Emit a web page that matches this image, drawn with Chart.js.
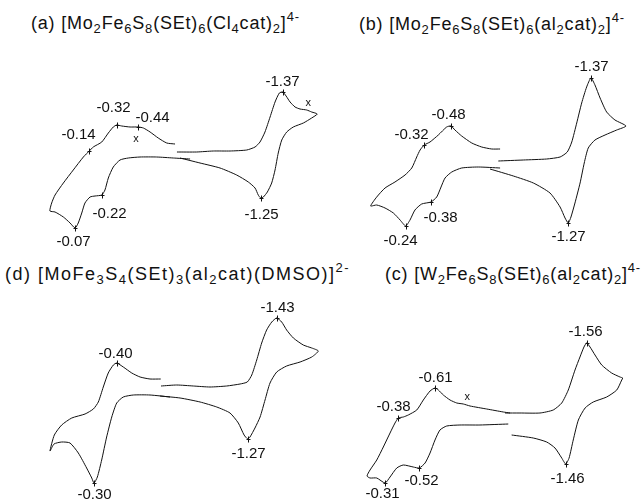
<!DOCTYPE html>
<html>
<head>
<meta charset="utf-8">
<script src="https://cdn.jsdelivr.net/npm/chart.js@4.4.0/dist/chart.umd.min.js"></script>
<style>
  html, body { margin: 0; padding: 0; background: #fff; }
  #wrap { position: relative; width: 641px; height: 501px; overflow: hidden;
          font-family: "Liberation Sans", Arial, Helvetica, sans-serif; color: #111; }
  .title { position: absolute; font-size: 18px; white-space: nowrap; line-height: 18px; letter-spacing: 0.8px; }
  .title sub { font-size: 13px; vertical-align: -4px; line-height: 0; }
  .title sup { font-size: 13px; vertical-align: 8px; line-height: 0; }
  canvas { position: absolute; }
</style>
</head>
<body>
<div id="wrap">
  <div class="title" style="left:31px;top:14px">(a) [Mo<sub>2</sub>Fe<sub>6</sub>S<sub>8</sub>(SEt)<sub>6</sub>(Cl<sub>4</sub>cat)<sub>2</sub>]<sup>4-</sup></div>
  <div class="title" style="left:359px;top:15px">(b) [Mo<sub>2</sub>Fe<sub>6</sub>S<sub>8</sub>(SEt)<sub>6</sub>(al<sub>2</sub>cat)<sub>2</sub>]<sup>4-</sup></div>
  <div class="title" style="left:5px;top:265px;letter-spacing:1.5px">(d) [MoFe<sub>3</sub>S<sub>4</sub>(SEt)<sub>3</sub>(al<sub>2</sub>cat)(DMSO)]<sup>2-</sup></div>
  <div class="title" style="left:385px;top:265px">(c) [W<sub>2</sub>Fe<sub>6</sub>S<sub>8</sub>(SEt)<sub>6</sub>(al<sub>2</sub>cat)<sub>2</sub>]<sup>4-</sup></div>
  <canvas id="cvA" width="330" height="215" style="left:0px;top:40px"></canvas>
  <canvas id="cvB" width="311" height="215" style="left:330px;top:40px"></canvas>
  <canvas id="cvD" width="330" height="216" style="left:0px;top:285px"></canvas>
  <canvas id="cvC" width="311" height="216" style="left:330px;top:285px"></canvas>
</div>
<script>
// potentials in V, currents in arbitrary uA; each trace = top branch then bottom branch

// (a) [Mo2Fe6S8(SEt)6(Cl4cat)2]4-
var aLeftE = [-0.694,-0.642,-0.589,-0.538,-0.496,-0.464,-0.413,-0.361,-0.329,-0.308,-0.277,-0.236,-0.183,-0.158,-0.121,-0.058,0.004,0.056,0.077,0.088,
              0.056,0.004,-0.038,-0.069,-0.089,-0.111,-0.131,-0.163,-0.194,-0.236,-0.256,-0.277,-0.308,-0.35,-0.402,-0.475,-0.579,-0.683,-0.788];
var aLeftI = [1.6,1.7,2.2,2.8,3.2,3.3,3.3,3.4,3.5,3.3,2.7,1.8,1.3,0.9,0.3,-1.0,-2.3,-3.5,-4.3,-5.1,
              -5.2,-5.7,-6.3,-6.8,-6.3,-5.3,-4.3,-3.7,-3.6,-3.5,-3.0,-1.8,-0.7,0,0.2,0.3,0.3,0.2,0.1];
var aRightE = [-0.706,-0.829,-0.933,-1.038,-1.142,-1.194,-1.225,-1.256,-1.288,-1.319,-1.346,-1.367,-1.388,-1.413,-1.444,-1.475,-1.517,-1.548,-1.583,
               -1.548,-1.496,-1.433,-1.392,-1.361,-1.339,-1.319,-1.298,-1.271,-1.246,-1.229,-1.214,-1.194,-1.152,-1.079,-0.975,-0.85,-0.725];
var aRightI = [0.8,0.8,0.9,0.9,1.0,1.3,1.8,2.8,4.3,5.8,6.7,6.8,6.4,5.8,5.3,5.1,5.0,4.8,4.6,
               4.2,3.7,3.3,2.8,2.0,0.7,-1.0,-2.3,-3.2,-3.7,-3.8,-3.5,-2.8,-2.2,-1.5,-0.8,-0.3,0.2];
var aPeakText = ['-0.14','-0.32','-0.44','-0.22','-0.07','-1.37','-1.25'];
var aPeakE = [-0.158,-0.329,-0.464,-0.236,-0.069,-1.367,-1.229];
var aPeakI = [0.9,3.5,3.3,-3.5,-6.8,6.8,-3.8];
var aCrossE = [-0.45,-1.527];
var aCrossI = [2.1,5.7];

// (b) [Mo2Fe6S8(SEt)6(al2cat)2]4-
var bLeftE = [-0.838,-0.786,-0.723,-0.661,-0.598,-0.556,-0.531,-0.504,-0.452,-0.4,-0.364,-0.338,-0.317,-0.286,-0.244,-0.181,-0.119,-0.067,-0.029,
              -0.067,-0.119,-0.171,-0.213,-0.248,-0.275,-0.306,-0.348,-0.406,-0.442,-0.469,-0.494,-0.536,-0.598,-0.702,-0.838];
var bLeftI = [1.6,1.6,1.8,2.2,2.9,3.5,3.9,3.8,3.0,2.3,2.0,1.5,0.8,-0.3,-1.0,-1.7,-2.3,-3.2,-4.1,
              -4.0,-4.3,-4.8,-5.5,-6.1,-5.5,-4.5,-3.9,-3.7,-3.2,-2.2,-1.3,-0.7,-0.3,-0.2,-0.3];
var bRightE = [-0.827,-0.983,-1.129,-1.213,-1.258,-1.286,-1.317,-1.348,-1.379,-1.406,-1.431,-1.463,-1.504,-1.556,-1.625,
               -1.567,-1.494,-1.431,-1.389,-1.364,-1.338,-1.306,-1.281,-1.264,-1.244,-1.213,-1.15,-1.046,-0.921,-0.775];
var bRightI = [0.4,0.5,0.6,0.8,1.3,2.3,4.2,6.2,7.8,8.7,8.0,6.7,5.3,4.5,3.9,
               3.5,3.0,2.5,1.7,0.2,-1.8,-3.8,-5.2,-5.8,-5.3,-4.2,-2.8,-1.8,-1.1,-0.4];
var bPeakText = ['-0.32','-0.48','-0.24','-0.38','-1.37','-1.27'];
var bPeakE = [-0.364,-0.531,-0.248,-0.406,-1.406,-1.264];
var bPeakI = [2.0,3.9,-6.1,-3.7,8.7,-5.8];

// (d) [MoFe3S4(SEt)3(al2cat)(DMSO)]2-
var dLeftE = [-0.717,-0.65,-0.588,-0.536,-0.483,-0.442,-0.421,-0.389,-0.358,-0.327,-0.296,-0.244,-0.161,-0.098,-0.052,-0.025,
              -0.05,-0.098,-0.15,-0.202,-0.254,-0.286,-0.3,-0.321,-0.348,-0.379,-0.411,-0.442,-0.483,-0.546,-0.65,-0.775];
var dLeftI = [1.1,1.1,1.3,1.7,2.3,2.7,2.5,1.7,0.3,-1.2,-1.9,-2.4,-2.8,-3.5,-4.5,-6.1,
              -5.4,-5.2,-5.3,-6.3,-7.8,-8.8,-9.3,-8.7,-7.0,-4.7,-2.7,-1.3,-0.7,-0.5,-0.5,-0.7];
var dRightE = [-0.719,-0.817,-0.921,-1.025,-1.129,-1.213,-1.258,-1.286,-1.317,-1.348,-1.379,-1.411,-1.442,-1.473,-1.504,-1.546,-1.608,-1.661,-1.702,
               -1.661,-1.588,-1.504,-1.442,-1.4,-1.369,-1.338,-1.306,-1.275,-1.261,-1.238,-1.202,-1.15,-1.067,-0.963,-0.838,-0.713];
var dRightI = [0.4,0.5,0.4,0.3,0.4,0.6,0.8,1.5,3.0,4.7,6.0,6.8,7.2,6.8,6.0,5.2,4.5,4.2,3.9,
               3.3,2.8,2.4,1.8,0.7,-1.0,-2.7,-3.8,-4.7,-4.9,-4.5,-3.3,-2.3,-1.7,-1.2,-0.8,-0.6];
var dPeakText = ['-0.40','-0.30','-1.43','-1.27'];
var dPeakE = [-0.442,-0.3,-1.442,-1.261];
var dPeakI = [2.7,-9.3,7.2,-4.9];

// (c) [W2Fe6S8(SEt)6(al2cat)2]4-
var cLeftE = [-1.094,-1.052,-0.948,-0.844,-0.802,-0.761,-0.719,-0.677,-0.646,-0.625,-0.594,-0.552,-0.511,-0.458,-0.427,-0.396,-0.375,-0.344,-0.302,-0.261,-0.219,-0.2,
              -0.219,-0.261,-0.313,-0.344,-0.386,-0.427,-0.489,-0.527,-0.563,-0.594,-0.625,-0.656,-0.698,-0.781,-0.906,-1.083];
var cLeftI = [0.7,0.8,1.1,1.4,1.6,1.7,2.0,2.5,3.0,3.2,2.9,2.0,1.0,0.5,0.3,0.2,-0.3,-1.3,-2.7,-4.0,-5.0,-5.6,
              -5.8,-5.8,-6.3,-5.7,-4.8,-4.5,-4.7,-4.8,-4.3,-3.3,-2.0,-1.0,-0.6,-0.5,-0.5,-0.4];
var cRightE = [-1.063,-1.156,-1.281,-1.364,-1.417,-1.458,-1.5,-1.531,-1.556,-1.573,-1.594,-1.625,-1.667,-1.729,-1.781,-1.798,
               -1.792,-1.761,-1.698,-1.614,-1.563,-1.521,-1.489,-1.463,-1.442,-1.417,-1.375,-1.323,-1.239,-1.104];
var cRightI = [0.7,0.7,0.7,1.0,1.7,3.0,5.0,6.3,7.3,7.7,7.3,6.5,5.5,4.7,4.3,4.2,
               4.0,3.0,2.3,1.8,1.2,0,-2.0,-3.8,-4.4,-3.8,-2.8,-2.2,-1.8,-1.5];
var cPeakText = ['-0.38','-0.61','-0.31','-0.52','-1.56','-1.46'];
var cPeakE = [-0.396,-0.625,-0.313,-0.527,-1.573,-1.442];
var cPeakI = [0.2,3.2,-6.3,-4.8,7.7,-4.4];
var cCrossE = [-0.827];
var cCrossI = [2.3];

var FONT = '"Liberation Sans", Arial, Helvetica, sans-serif';
var INK = '#111';

// peak ticks, labels and the small x marks
function peakPlugin(text, pe, pi, dx, dy, xe, xi) {
  return {
    id: 'peaks',
    afterDatasetsDraw: function(chart) {
      var ctx = chart.ctx, sx = chart.scales.x, sy = chart.scales.y;
      ctx.save();
      ctx.strokeStyle = INK;
      ctx.fillStyle = INK;
      ctx.lineWidth = 1;
      ctx.textAlign = 'center';
      ctx.textBaseline = 'middle';
      ctx.font = '15px ' + FONT;
      for (var k = 0; k < text.length; k++) {
        var px = Math.round(sx.getPixelForValue(pe[k])) + 0.5;
        var py = Math.round(sy.getPixelForValue(pi[k])) + 0.5;
        ctx.beginPath();
        ctx.moveTo(px, py - 3); ctx.lineTo(px, py + 3);
        ctx.moveTo(px - 2, py); ctx.lineTo(px + 2, py);
        ctx.stroke();
        ctx.fillText(text[k], px + dx[k], py + dy[k]);
      }
      ctx.font = '11px ' + FONT;
      for (var j = 0; j < (xe || []).length; j++) {
        ctx.fillText('x', sx.getPixelForValue(xe[j]), sy.getPixelForValue(xi[j]));
      }
      ctx.restore();
    }
  };
}

function trace(E, I) {
  return {
    data: E.map(function(e, k) { return { x: e, y: I[k] }; }),
    showLine: true,
    borderColor: INK,
    borderWidth: 1,
    pointRadius: 0,
    tension: 0.2,
    fill: false
  };
}

// box = canvas left/top/width/height in page px; off/base tie V and uA to page px
function drawCV(id, box, off, base, traces, plugin) {
  var vpp = 0.00625, ipp = 0.1;
  new Chart(document.getElementById(id), {
    type: 'scatter',
    data: { datasets: traces },
    options: {
      responsive: false,
      animation: false,
      devicePixelRatio: 1,
      layout: { padding: 0 },
      plugins: { legend: { display: false }, tooltip: { enabled: false } },
      scales: {
        x: { type: 'linear', display: false, reverse: true,
             min: (off - box[0] - box[2]) * vpp, max: (off - box[0]) * vpp },
        y: { type: 'linear', display: false,
             min: (base - box[1] - box[3]) * ipp, max: (base - box[1]) * ipp }
      }
    },
    plugins: [plugin]
  });
}

drawCV('cvA', [0, 40, 330, 215], 64, 160,
  [trace(aLeftE, aLeftI), trace(aRightE, aRightI)],
  peakPlugin(aPeakText, aPeakE, aPeakI, [-11,-4,14,7,-2,-1,0], [-17,-18,-10,18,13,-11,16], aCrossE, aCrossI));

drawCV('cvB', [330, 40, 311, 215], 366, 165,
  [trace(bLeftE, bLeftI), trace(bRightE, bRightI)],
  peakPlugin(bPeakText, bPeakE, bPeakI, [-13,-3,-6,9,0,0], [-11,-12,14,15,-12,13]));

drawCV('cvD', [0, 285, 330, 216], 46, 390,
  [trace(dLeftE, dLeftI), trace(dRightE, dRightI)],
  peakPlugin(dPeakText, dPeakE, dPeakI, [-2,0,0,0], [-10,11,-11,14]));

drawCV('cvC', [330, 285, 311, 216], 335, 420,
  [trace(cLeftE, cLeftI), trace(cRightE, cRightI)],
  peakPlugin(cPeakText, cPeakE, cPeakI, [-5,0,-3,2,-2,1], [-12,-11,10,12,-12,14], cCrossE, cCrossI));
</script>
</body>
</html>
